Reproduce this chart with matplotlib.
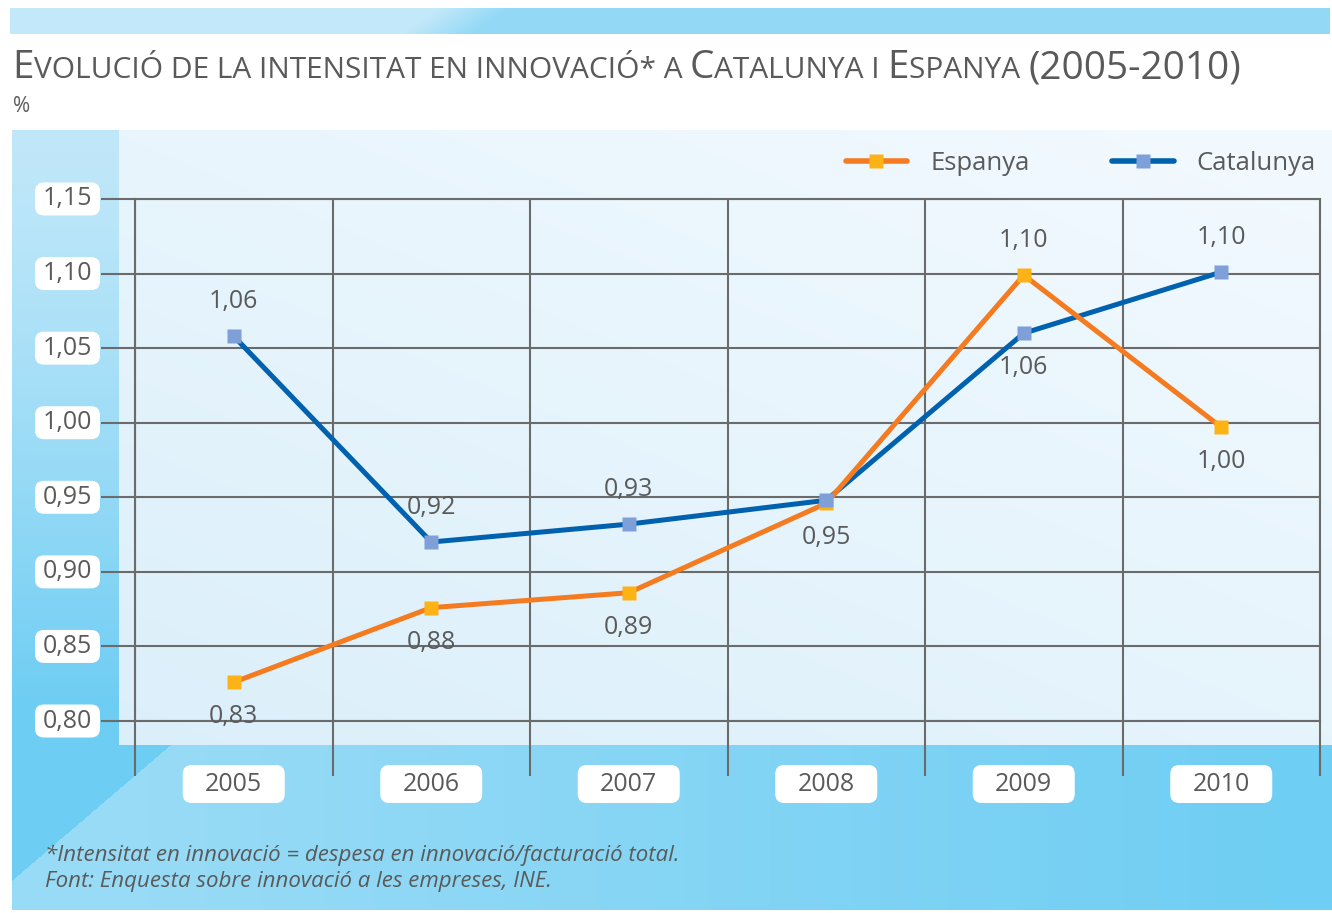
import numpy as np
import matplotlib.pyplot as plt
from matplotlib.patches import FancyBboxPatch
from matplotlib.colors import to_rgb
from matplotlib.lines import Line2D

plt.rcParams['font.family'] = ['Open Sans', 'DejaVu Sans']

years = ['2005', '2006', '2007', '2008', '2009', '2010']
espanya = [0.826, 0.876, 0.886, 0.946, 1.099, 0.997]
catalunya = [1.058, 0.920, 0.932, 0.948, 1.060, 1.101]
espanya_labels = ['0,83', '0,88', '0,89', '0,95', '1,10', '1,00']
catalunya_labels = ['1,06', '0,92', '0,93', '', '1,06', '1,10']
# 1 = label above the point, -1 = below
espanya_side = [-1, -1, -1, -1, 1, -1]
catalunya_side = [1, 1, 1, 1, -1, 1]
yticks = [0.80, 0.85, 0.90, 0.95, 1.00, 1.05, 1.10, 1.15]
ytick_labels = ['0,80', '0,85', '0,90', '0,95', '1,00', '1,05', '1,10', '1,15']

title = 'Evolució de la intensitat en innovació* a Catalunya i Espanya (2005-2010)'
note1 = '*Intensitat en innovació = despesa en innovació/facturació total.'
note2 = 'Font: Enquesta sobre innovació a les empreses, INE.'

grey = '#5a5a5a'
gridc = '#6b6b6b'
orange, orange_mk = '#f47b20', '#fdb315'
blue, blue_mk = '#0061af', '#7f9fd8'

W, H = 1332, 913
fig = plt.figure(figsize=(W / 100, H / 100), dpi=100)
bg = fig.add_axes([0, 0, 1, 1])
bg.set_autoscale_on(False)
bg.set_xlim(0, W)
bg.set_ylim(H, 0)
bg.axis('off')


def mix(c0, c1, t):
    c0 = np.array(to_rgb(c0))
    c1 = np.array(to_rgb(c1))
    t = np.clip(t, 0, 1)[..., None]
    return c0 * (1 - t) + c1 * t


# top band
xx, yy = np.meshgrid(np.arange(10, 1330), np.arange(8, 34))
bg.imshow(mix('#c3e8f9', '#93d9f6', (xx - 400 - (34 - yy) * 1.5) / 70),
          extent=(10, 1330, 34, 8), aspect='auto', interpolation='bilinear')

# blue panel + light plot area
xx, yy = np.meshgrid(np.arange(12, W), np.arange(130, 910))
img = mix('#bfe7f9', '#6dcdf3', np.clip((yy - 150) / 560, 0, 1) ** 1.3)
bottom = (yy >= 745) & (xx > 12 + (880 - yy) * 158 / 135)
img[bottom] = mix('#98dbf6', '#6fcef3', (xx - 150) / 1150)[bottom]
plot_area = (xx >= 119) & (yy < 745)
t2 = 0.55 * (yy - 130) / 615 + 0.45 * (1 - (xx - 119) / 1213)
img[plot_area] = mix('#f3faff', '#dbeffa', t2)[plot_area]
bg.imshow(img, extent=(12, W, 910, 130), aspect='auto', interpolation='bilinear')

ax = fig.add_axes([135 / W, (H - 721) / H, 1185 / W, 522 / H])
ax.patch.set_visible(False)
x = np.arange(len(years))
ax.set_xlim(-0.5, len(years) - 0.5)
ax.set_ylim(yticks[0], yticks[-1])
ax.set_xticks(np.arange(-0.5, len(years), 1))
ax.set_yticks(yticks)
ax.grid(True, color=gridc, lw=1.5)
ax.tick_params(axis='both', color=gridc, width=1.5, labelleft=False, labelbottom=False)
ax.tick_params(axis='y', length=24.5)
ax.tick_params(axis='x', length=39.6)
for s in ax.spines.values():
    s.set_color(gridc)
    s.set_linewidth(1.5)

ax.plot(x, catalunya, color=blue, lw=3.6, zorder=3)
ax.plot(x, espanya, color=orange, lw=3.6, zorder=4)
ax.plot(x, espanya, ls='none', marker='s', ms=10.5, mfc=orange_mk, mec='none', zorder=5)
ax.plot(x, catalunya, ls='none', marker='s', ms=10.5, mfc=blue_mk, mec='none', zorder=6)

for vals, labs, sides in [(espanya, espanya_labels, espanya_side),
                          (catalunya, catalunya_labels, catalunya_side)]:
    for xi, v, lab, s in zip(x, vals, labs, sides):
        if lab:
            ax.annotate(lab, (xi, v), xytext=(0, 25 * s), textcoords='offset points',
                        ha='center', va='center', fontsize=18, color=grey, zorder=7)

handles = [Line2D([], [], color=orange, lw=4, solid_capstyle='round', marker='s', ms=10.5,
                  mfc=orange_mk, mec='none'),
           Line2D([], [], color=blue, lw=4, solid_capstyle='round', marker='s', ms=10.5,
                  mfc=blue_mk, mec='none')]
fig.legend(handles, ['Espanya', 'Catalunya'], loc='center right',
           bbox_to_anchor=(1316 / W, (H - 163) / H), ncol=2, frameon=False, fontsize=18.5,
           handlelength=2.4, handletextpad=0.9, columnspacing=3.2, borderpad=0,
           borderaxespad=0, labelcolor=grey)

# label boxes
to_disp = ax.transData.transform
for t, lab in zip(yticks, ytick_labels):
    yp = H - to_disp((0, t))[1]
    bg.add_patch(FancyBboxPatch((35, yp - 16.5), 65, 33, boxstyle='round,pad=0,rounding_size=9',
                                fc='white', ec='none'))
    ax.text(-68 / 1185, t, lab, transform=ax.get_yaxis_transform(), ha='center',
            va='center', fontsize=18, color=grey)
for xi, yr in zip(x, years):
    xp = to_disp((xi, yticks[0]))[0]
    bg.add_patch(FancyBboxPatch((xp - 51, 765), 102, 38, boxstyle='round,pad=0,rounding_size=9',
                                fc='white', ec='none'))
    ax.text(xi, -63 / 522, yr, transform=ax.get_xaxis_transform(), ha='center',
            va='center', fontsize=18, color=grey)

# title in small caps
r = fig.canvas.get_renderer()


def text_w(s, sz):
    tt = bg.text(0, 0, s, fontsize=sz)
    w = tt.get_window_extent(r).width
    tt.remove()
    return w


runs = []
for ch in title:
    sz = 21.5 if (ch.islower() or ch in ' *') else 27.9
    if runs and runs[-1][1] == sz:
        runs[-1][0] += ch
    else:
        runs.append([ch, sz])
xpos = 12
for s, sz in runs:
    bg.text(xpos, 78, s.upper(), fontsize=sz, color=grey, va='baseline')
    xpos += text_w('|' + s.upper() + '|', sz) - text_w('||', sz)

bg.text(13, 112, '%', fontsize=15, color=grey, va='baseline')
bg.text(45, 855, note1, fontsize=16, style='italic', color=grey, va='center')
bg.text(45, 881, note2, fontsize=16, style='italic', color=grey, va='center')

bg.set_xlim(0, W)
bg.set_ylim(H, 0)
fig.savefig('out.png', dpi=100)
